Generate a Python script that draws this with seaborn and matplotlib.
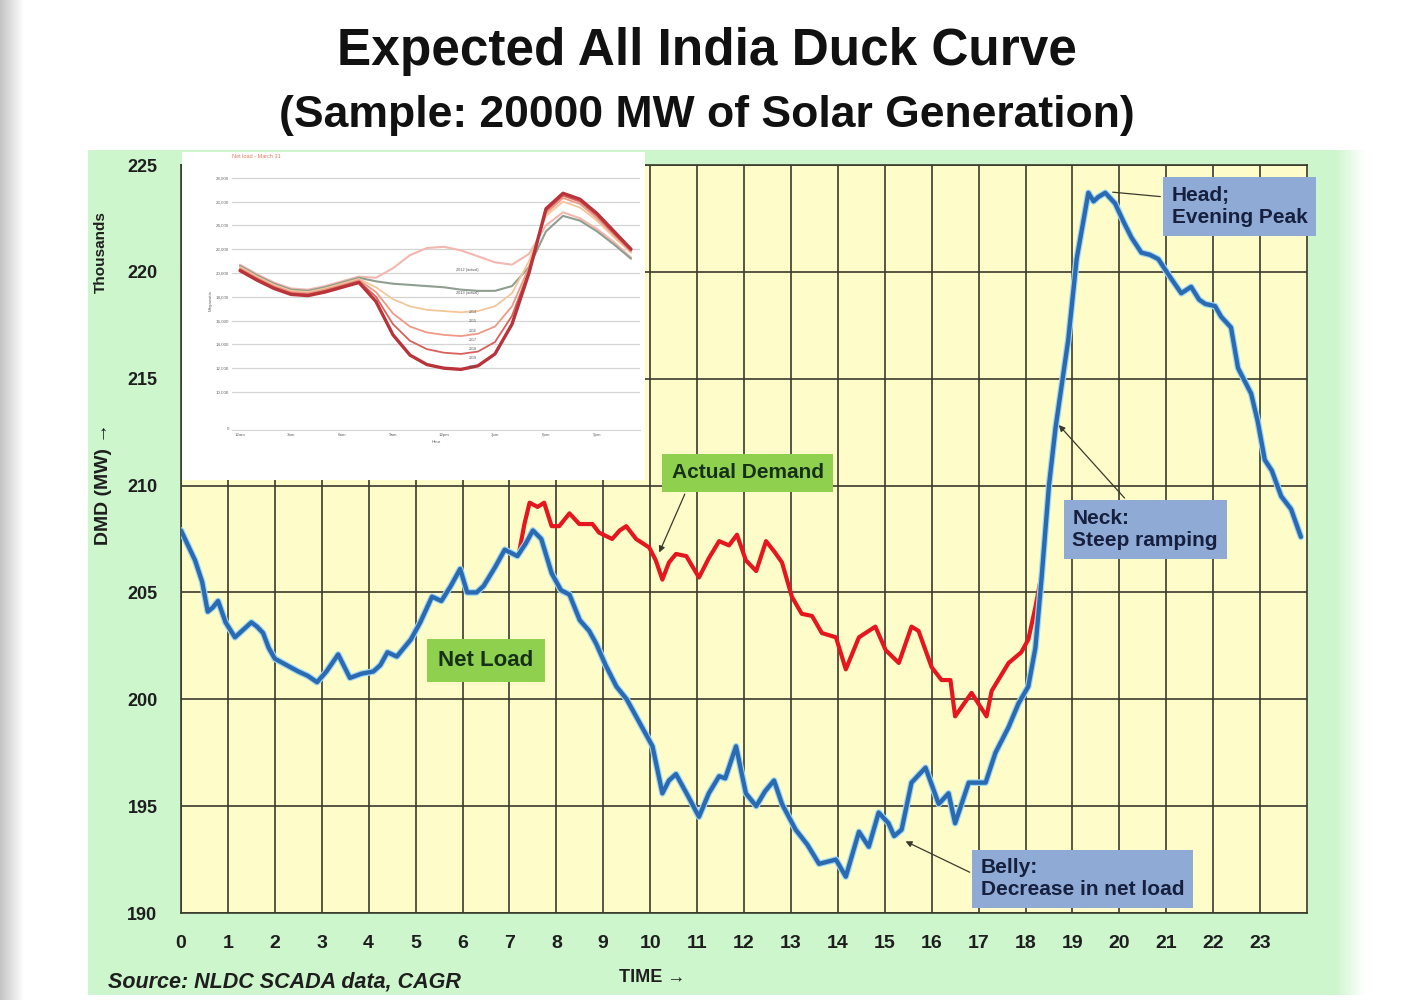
import numpy as np
import pandas as pd
import matplotlib
matplotlib.use("Agg")
import matplotlib.pyplot as plt
import matplotlib.patheffects as pe
from matplotlib.patches import Rectangle
from matplotlib.colors import LinearSegmentedColormap
import seaborn as sns

# ---------------- data ----------------
net_hours = [0.00, 0.15, 0.30, 0.45, 0.57, 0.68, 0.79, 0.95, 1.15, 1.30, 1.50, 1.62, 1.75, 1.87,
             2.00, 2.25, 2.50, 2.70, 2.90, 3.10, 3.35, 3.60, 3.85, 4.10, 4.25, 4.40, 4.60, 4.90,
             5.10, 5.35, 5.55, 5.75, 5.95, 6.10, 6.30, 6.45, 6.70, 6.90, 7.17, 7.35, 7.50, 7.68,
             7.90, 8.10, 8.28, 8.50, 8.70, 8.85, 9.05, 9.28, 9.50, 9.70, 9.90, 10.05, 10.26, 10.40,
             10.55, 10.80, 11.04, 11.25, 11.47, 11.60, 11.83, 12.04, 12.26, 12.45, 12.64, 12.81,
             13.10, 13.35, 13.60, 13.96, 14.17, 14.45, 14.66, 14.87, 15.08, 15.20, 15.36, 15.57,
             15.87, 16.15, 16.36, 16.50, 16.79, 17.15, 17.36, 17.64, 17.85, 18.06, 18.21, 18.34,
             18.50, 18.64, 18.91, 19.09, 19.34, 19.45, 19.55, 19.70, 19.91, 20.10, 20.26, 20.47,
             20.65, 20.83, 21.10, 21.32, 21.53, 21.70, 21.83, 22.04, 22.17, 22.38, 22.53, 22.81,
             22.95, 23.10, 23.25, 23.45, 23.66, 23.87]
net_load = [207.9, 207.2, 206.5, 205.5, 204.1, 204.3, 204.6, 203.6, 202.9, 203.2, 203.6, 203.4, 203.1, 202.4,
            201.9, 201.6, 201.3, 201.1, 200.8, 201.3, 202.1, 201.0, 201.2, 201.3, 201.6, 202.2, 202.0, 202.8,
            203.6, 204.8, 204.6, 205.3, 206.1, 205.0, 205.0, 205.3, 206.2, 207.0, 206.7, 207.3, 207.9, 207.5,
            205.9, 205.1, 204.9, 203.7, 203.2, 202.6, 201.6, 200.6, 200.0, 199.2, 198.4, 197.8, 195.6, 196.2,
            196.5, 195.5, 194.5, 195.6, 196.4, 196.3, 197.8, 195.6, 195.0, 195.7, 196.2, 195.1,
            193.9, 193.2, 192.3, 192.5, 191.7, 193.8, 193.1, 194.7, 194.2, 193.6, 193.9, 196.1,
            196.8, 195.1, 195.6, 194.2, 196.1, 196.1, 197.5, 198.7, 199.8, 200.6, 202.4, 205.6,
            210.0, 212.7, 216.8, 220.6, 223.7, 223.3, 223.5, 223.7, 223.2, 222.3, 221.6, 220.9,
            220.8, 220.6, 219.7, 219.0, 219.3, 218.7, 218.5, 218.4, 217.9, 217.4, 215.5, 214.3,
            213.0, 211.2, 210.7, 209.5, 208.9, 207.6]

demand_hours = [7.20, 7.32, 7.43, 7.60, 7.74, 7.90, 8.06, 8.28, 8.49, 8.77, 8.91, 9.19, 9.35, 9.49,
                9.70, 9.98, 10.12, 10.26, 10.40, 10.55, 10.77, 11.04, 11.25, 11.47, 11.68, 11.85,
                12.04, 12.26, 12.47, 12.65, 12.81, 13.02, 13.23, 13.45, 13.66, 13.96, 14.17, 14.45,
                14.80, 15.02, 15.30, 15.57, 15.72, 16.00, 16.21, 16.40, 16.50, 16.85, 17.17, 17.28,
                17.64, 17.91, 18.06, 18.21, 18.34]
actual_demand = [206.8, 208.2, 209.2, 209.0, 209.2, 208.1, 208.1, 208.7, 208.2, 208.2, 207.8, 207.5, 207.9, 208.1,
                 207.5, 207.1, 206.5, 205.6, 206.4, 206.8, 206.7, 205.7, 206.6, 207.4, 207.2, 207.7,
                 206.5, 206.0, 207.4, 206.9, 206.4, 204.8, 204.0, 203.9, 203.1, 202.9, 201.4, 202.9,
                 203.4, 202.3, 201.7, 203.4, 203.2, 201.5, 200.9, 200.9, 199.2, 200.3, 199.2, 200.4,
                 201.7, 202.2, 202.8, 204.3, 205.8]

x_ticks = list(range(24))
y_ticks = [190, 195, 200, 205, 210, 215, 220, 225]

# small net-load reference chart (MW by hour)
inset_hours = list(range(24))
inset_2012 = [20700, 19900, 19200, 18700, 18600, 18900, 19300, 19700, 19600, 20400, 21500, 22100,
              22200, 21900, 21400, 20900, 20700, 21600, 24000, 25100, 24600, 23700, 22600, 21300]
inset_2013 = [20600, 19800, 19100, 18600, 18500, 18800, 19200, 19600, 19300, 19100, 19000, 18900,
              18800, 18600, 18500, 18500, 18900, 20500, 23500, 24800, 24400, 23500, 22400, 21200]
inset_2014 = [20500, 19700, 19000, 18500, 18400, 18700, 19100, 19500, 18800, 17800, 17200, 16900,
              16800, 16700, 16800, 17200, 18300, 21000, 24800, 26000, 25500, 24400, 23000, 21700]
inset_2016 = [20400, 19600, 18900, 18400, 18300, 18600, 19000, 19400, 18400, 16600, 15500, 15000,
              14800, 14700, 14900, 15500, 17200, 20500, 25000, 26300, 25800, 24600, 23200, 21800]
inset_2018 = [20300, 19500, 18800, 18300, 18200, 18500, 18900, 19300, 18000, 15700, 14300, 13600,
              13300, 13200, 13400, 14200, 16400, 20200, 25200, 26500, 26000, 24800, 23300, 21900]
inset_2020 = [20200, 19400, 18700, 18200, 18100, 18400, 18800, 19200, 17600, 14800, 13100, 12300,
              12000, 11900, 12200, 13200, 15700, 20000, 25400, 26700, 26200, 25000, 23500, 22000]
inset_series = {"2012 (actual)": inset_2012, "2013 (actual)": inset_2013, "2014": inset_2014,
                "2016": inset_2016, "2018": inset_2018, "2020": inset_2020}
inset_colors = {"2012 (actual)": "#f2b8b0", "2013 (actual)": "#8f9e90", "2014": "#f4c79a",
                "2016": "#ee9a86", "2018": "#d9605a", "2020": "#b8343a"}
inset_year_labels = ["2014", "2015", "2016", "2017", "2018", "2019", "2020"]
inset_x_labels = ["12am", "3am", "6am", "9am", "12pm", "3pm", "6pm", "9pm"]

# ---------------- figure ----------------
sns.set_style("white")
plt.rcParams["font.family"] = ["Liberation Sans", "DejaVu Sans"]

W, H = 1416, 1000
fig = plt.figure(figsize=(W / 100, H / 100), dpi=100)
fig.patch.set_facecolor("white")


def rect(x0, y0, x1, y1):
    """Figure-fraction rectangle from pixel corners (top-left origin)."""
    return [x0 / W, 1 - y1 / H, (x1 - x0) / W, (y1 - y0) / H]


# green slide panel
fig.patches.append(Rectangle((88 / W, 1 - 995 / H), (1335 - 88) / W, (995 - 150) / H,
                             transform=fig.transFigure, facecolor="#cdf6cd",
                             edgecolor="none", zorder=0))
fade = fig.add_axes(rect(1335, 150, 1365, 995), zorder=0)
fade.imshow(np.linspace(0, 1, 64)[None, :], aspect="auto",
            cmap=LinearSegmentedColormap.from_list("g2w", ["#cdf6cd", "#ffffff"]))
fade.axis("off")
edge = fig.add_axes(rect(0, 0, 24, 1000), zorder=0)
edge.imshow(np.linspace(0, 1, 64)[None, :], aspect="auto",
            cmap=LinearSegmentedColormap.from_list("g2w2", ["#c4c4c4", "#ffffff"]))
edge.axis("off")

# titles
fig.text(707 / W, 1 - 51 / H, "Expected All India Duck Curve", ha="center", va="center",
         fontsize=37, fontweight="bold", color="#111111")
fig.text(707 / W, 1 - 115 / H, "(Sample: 20000 MW of Solar Generation)", ha="center",
         va="center", fontsize=32, fontweight="bold", color="#111111")

# ---------------- main axes ----------------
ax = fig.add_axes(rect(181, 165, 1307, 913), zorder=1)
ax.set_facecolor("#fefdc9")

df_demand = pd.DataFrame({"hour": demand_hours, "mw": actual_demand})
df_net = pd.DataFrame({"hour": net_hours, "mw": net_load})
sns.lineplot(data=df_demand, x="hour", y="mw", ax=ax, color="#e5161d", linewidth=3.0,
             sort=False, estimator=None, zorder=3)
sns.lineplot(data=df_net, x="hour", y="mw", ax=ax, color="#2b6ab0", linewidth=3.1,
             sort=False, estimator=None, zorder=4,
             path_effects=[pe.Stroke(linewidth=4.8, foreground="#9fd8f2"), pe.Normal()])

ax.set_xlim(0, 24)
ax.set_ylim(190, 225)
ax.set_xticks(x_ticks)
ax.set_yticks(y_ticks)
ax.set_xticklabels([str(t) for t in x_ticks], fontsize=14, fontweight="bold", color="#1e1e1e")
ax.set_yticklabels([str(t) for t in y_ticks], fontsize=13, fontweight="bold", color="#1e1e1e")
ax.tick_params(axis="x", length=0, pad=16)
ax.tick_params(axis="y", length=9, width=1, color="#556655", direction="out", pad=8)
ax.grid(True, color="#3a3a2c", linewidth=1.2)
ax.set_axisbelow(True)
ax.set_xlabel("")
ax.set_ylabel("")
for side in ["left", "bottom", "top", "right"]:
    ax.spines[side].set_color("#3a3a2c")
    ax.spines[side].set_linewidth(1.2)

# annotation boxes
green_box = dict(boxstyle="square,pad=0.45", facecolor="#8fd14f", edgecolor="none")
blue_box = dict(boxstyle="square,pad=0.42", facecolor="#8eaad5", edgecolor="none")
arrow_kw = dict(arrowstyle="-|>", color="#3a3a2c", lw=0.9, mutation_scale=9)

ax.annotate("Actual Demand", xy=(10.17, 206.75), xytext=(12.08, 210.6), ha="center",
            va="center", fontsize=15, fontweight="bold", color="#17301a", bbox=green_box,
            arrowprops=dict(arrow_kw, relpos=(0.12, 0.0)), zorder=6)
ax.text(6.5, 201.8, "Net Load", ha="center", va="center", fontsize=16, fontweight="bold",
        color="#17301a", bbox=dict(green_box, boxstyle="square,pad=0.5"), zorder=6)
ax.annotate("Head;\nEvening Peak", xy=(19.8, 223.74), xytext=(21.12, 223.05), ha="left",
            va="center", fontsize=15, fontweight="bold", color="#16203e", bbox=blue_box,
            linespacing=1.2, annotation_clip=False,
            arrowprops=dict(arrowstyle="-", color="#3a3a2c", lw=0.9, relpos=(0.0, 0.72)),
            zorder=6)
ax.annotate("Neck:\nSteep ramping", xy=(18.67, 212.93), xytext=(19.0, 207.95), ha="left",
            va="center", fontsize=15, fontweight="bold", color="#16203e", bbox=blue_box,
            linespacing=1.2, arrowprops=dict(arrow_kw, relpos=(0.4, 1.1)), zorder=6)
ax.annotate("Belly:\nDecrease in net load", xy=(15.39, 193.41), xytext=(17.05, 191.6),
            ha="left", va="center", fontsize=15, fontweight="bold", color="#16203e",
            bbox=blue_box, linespacing=1.2,
            arrowprops=dict(arrow_kw, relpos=(-0.03, 0.6)), zorder=6)

# outer axis labels
fig.text(101 / W, 1 - 252 / H, "Thousands", rotation=90, ha="center", va="center",
         fontsize=11, fontweight="bold", color="#1e1e1e")
fig.text(104 / W, 1 - 484 / H, "DMD (MW) \u2192", rotation=90, ha="center", va="center",
         fontsize=14, fontweight="bold", color="#1e1e1e")
fig.text(652 / W, 1 - 978 / H, "TIME \u2192", ha="center", va="center", fontsize=13,
         fontweight="bold", color="#1e1e1e")
fig.text(108 / W, 1 - 982 / H, "Source: NLDC SCADA data, CAGR", ha="left", va="center",
         fontsize=15.5, fontweight="bold", fontstyle="italic", color="#1e1e1e")

# ---------------- small net-load chart ----------------
panel = fig.add_axes(rect(182, 152, 645, 480), zorder=5)
panel.set_facecolor("white")
panel.set_xticks([])
panel.set_yticks([])
for s in panel.spines.values():
    s.set_visible(False)

ins = fig.add_axes(rect(232, 172, 640, 430), zorder=6)
ins.set_facecolor("none")
df_ins = pd.DataFrame([{"hour": h, "mw": v, "year": k}
                       for k, vals in inset_series.items()
                       for h, v in zip(inset_hours, vals)])
for k in inset_series:
    lw = 2.4 if k == "2020" else (1.5 if k in ("2012 (actual)", "2013 (actual)") else 1.3)
    sns.lineplot(data=df_ins[df_ins["year"] == k], x="hour", y="mw", ax=ins,
                 color=inset_colors[k], linewidth=lw, sort=False, estimator=None, legend=False)
ins.set_xlim(-0.47, 23.53)
ins.set_ylim(6807, 28487)
grid_vals = list(range(10000, 28001, 2000))
ins.set_yticks([6975] + grid_vals)
ins.set_yticklabels(["0"] + [f"{v:,}" for v in grid_vals], fontsize=3.2, color="#666666")
ins.set_xticks(list(range(0, 24, 3)))
ins.set_xticklabels(inset_x_labels, fontsize=3.2, color="#666666")
ins.tick_params(length=0, pad=2)
for v in grid_vals:
    ins.axhline(v, color="#d4d4d4", lw=0.9, zorder=0)
for s in ["top", "right", "left"]:
    ins.spines[s].set_visible(False)
ins.spines["bottom"].set_color("#d4d4d4")
ins.set_xlabel("Hour", fontsize=3.2, color="#666666", labelpad=2)
ins.set_ylabel("Megawatts", fontsize=3.2, color="#666666", labelpad=2)
ins.text(0.0, 1.06, "Net load - March 31", transform=ins.transAxes, fontsize=4,
         color="#e08060", ha="left", va="center")
ins.text(13.4, 20250, "2012 (actual)", fontsize=2.8, color="#555555", ha="center", va="center")
ins.text(13.4, 18350, "2013 (actual)", fontsize=2.8, color="#555555", ha="center", va="center")
for i, lab in enumerate(inset_year_labels):
    ins.text(13.7, 16700 - i * 770, lab, fontsize=2.6, color="#555555", ha="center",
             va="center")

fig.savefig("out.png", dpi=100, facecolor="white")
